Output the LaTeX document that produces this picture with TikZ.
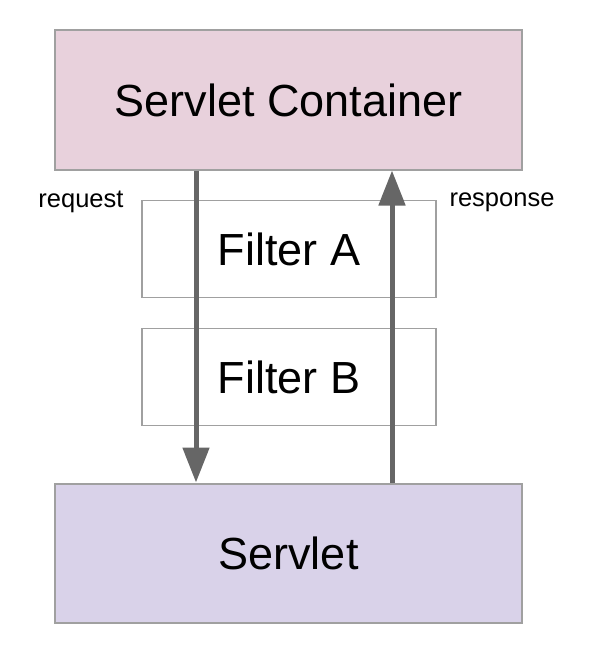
\documentclass[tikz,border=0pt]{standalone}
\usepackage{fontspec}
\setmainfont{Liberation Sans}
\usetikzlibrary{arrows.meta}

\definecolor{contfill}{HTML}{E8D1DC}
\definecolor{servfill}{HTML}{D9D2E9}
\definecolor{boxline}{HTML}{A0A0A0}
\definecolor{flowgray}{HTML}{666666}

\tikzset{
	bigbox/.style = {draw = boxline, line width = 2pt, minimum width = 467pt, minimum height = 139pt, inner sep = 0pt, font = \fontsize{45}{54}\selectfont},
	filterbox/.style = {draw = boxline, line width = 1.6pt, fill = white, minimum width = 294pt, minimum height = 97pt, inner sep = 0pt, font = \fontsize{45}{54}\selectfont},
	flow/.style = {draw = flowgray, line width = 5pt, -{Triangle[length = 35pt, width = 26pt]}},
	tag/.style = {font = \fontsize{25.5}{30}\selectfont, inner sep = 0pt}
}

\begin{document}
\begin{tikzpicture}[x = 1pt, y = -1pt]
					\useasboundingbox (0, 0) rectangle (608, 666);

					\node[bigbox, fill = contfill] (cont) at (288.5, 100) {Servlet Container};
					\node[filterbox] (fa) at (289, 249) {Filter A};
					\node[filterbox] (fb) at (289, 377) {Filter B};
					\node[bigbox, fill = servfill] (servlet) at (288.5, 553) {Servlet};

					\node[tag] (req) at (81, 202) {request};
					\node[tag] (resp) at (502, 202) {response};

					\draw[flow] ([xshift = -92.5pt]cont.south) -- ([xshift = -92.5pt]servlet.north);
					\draw[flow] ([xshift = 103.5pt]servlet.north) -- ([xshift = 103.5pt]cont.south);
				\end{tikzpicture}
\end{document}
